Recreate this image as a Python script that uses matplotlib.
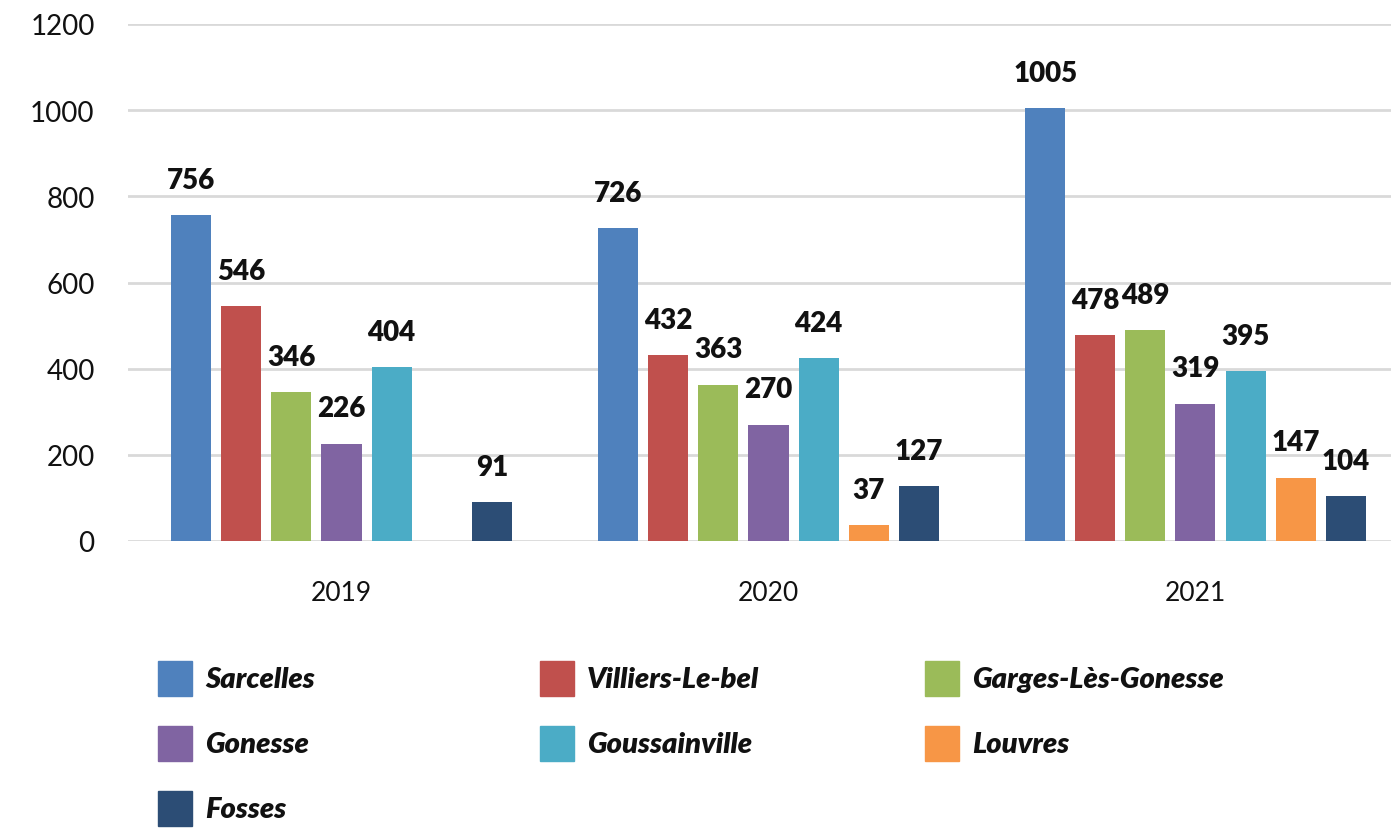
import numpy as np
import matplotlib.pyplot as plt
from matplotlib.patches import Rectangle

years = ['2019', '2020', '2021']
towns = ['Sarcelles', 'Villiers-Le-bel', 'Garges-Lès-Gonesse', 'Gonesse',
         'Goussainville', 'Louvres', 'Fosses']
values = {
    'Sarcelles':          [756, 726, 1005],
    'Villiers-Le-bel':    [546, 432, 478],
    'Garges-Lès-Gonesse': [346, 363, 489],
    'Gonesse':            [226, 270, 319],
    'Goussainville':      [404, 424, 395],
    'Louvres':            [np.nan, 37, 147],
    'Fosses':             [91, 127, 104],
}
colors = ['#4F81BD', '#C0504D', '#9BBB59', '#8064A2', '#4BACC6', '#F79646', '#2C4D75']

plt.rcParams['font.family'] = ['Lato', 'DejaVu Sans']

W, H = 1391, 829
fig = plt.figure(figsize=(W / 100, H / 100), dpi=100)
# axes in pixel coords: left 128, bottom y=542, top y=25
ax = fig.add_axes([128 / W, (H - 542) / H, (W - 128) / W, (542 - 25) / H])

x = np.arange(len(years))
pitch = 50 / 426
width = 40 / 426
for i, (t, c) in enumerate(zip(towns, colors)):
    off = (i - 3) * pitch
    v = np.array(values[t], dtype=float)
    ax.bar(x + off, v, width, color=c, zorder=3)
    for xi, vi in zip(x + off, v):
        if np.isnan(vi):
            continue
        ax.annotate(f'{int(vi)}', (xi, vi), xytext=(0, 16), textcoords='offset points',
                    ha='center', va='bottom', fontsize=20, fontweight='heavy',
                    color='#111111')

ax.set_xlim(-0.5, 2.458)
ax.set_ylim(0, 1200)
ax.set_yticks(range(0, 1201, 200))
ax.set_xticks(x)
ax.set_xticklabels(years)
ax.yaxis.grid(True, color='#D9D9D9', linewidth=2, zorder=0)
ax.set_axisbelow(True)
for s in ax.spines.values():
    s.set_visible(False)
ax.tick_params(axis='y', length=0, pad=24, labelsize=20, labelcolor='#111111')
ax.tick_params(axis='x', length=0, pad=28, labelsize=19, labelcolor='#111111')

# legend drawn by hand to match column positions
col_x = [158, 540, 925]
row_y = [680, 745, 810]
for i, (t, c) in enumerate(zip(towns, colors)):
    r, k = divmod(i, 3)
    px, py = col_x[k], row_y[r]
    fig.add_artist(Rectangle((px / W, (H - py - 17) / H), 34 / W, 35 / H,
                             transform=fig.transFigure, color=c))
    fig.text((px + 47) / W, (H - py) / H, t, ha='left', va='center',
             fontsize=21, fontweight='heavy', fontstyle='italic', color='#111111')

fig.savefig('out.png', dpi=100)
